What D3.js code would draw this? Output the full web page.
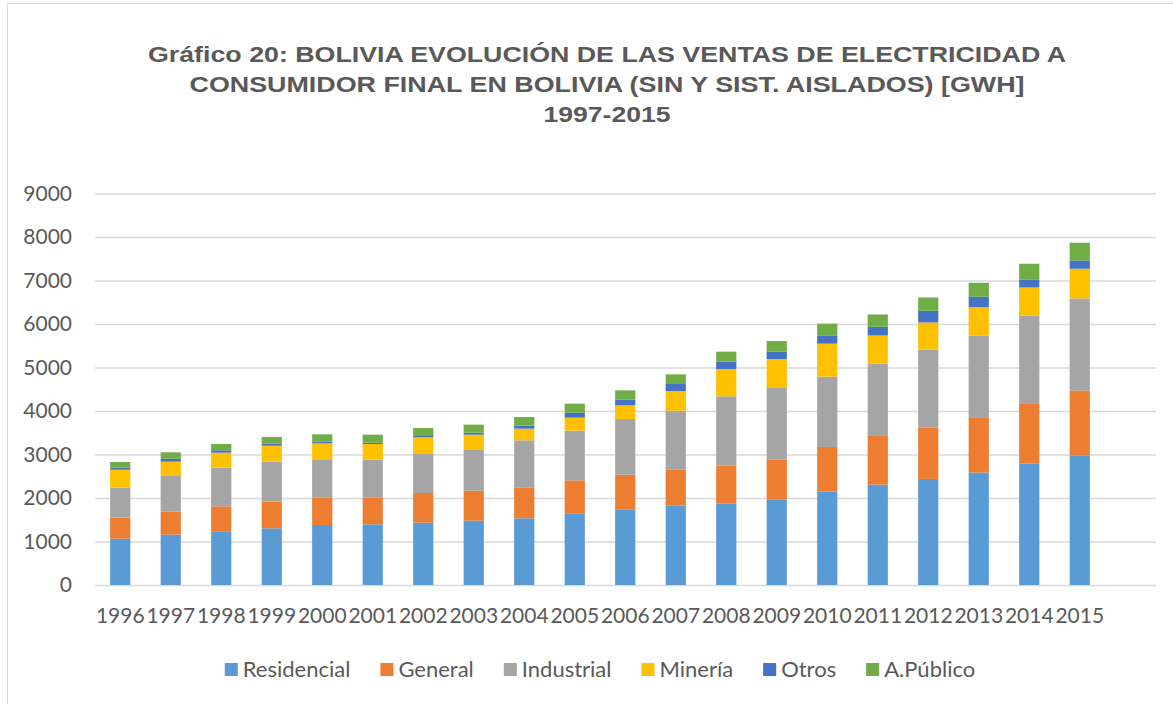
<html>
  <head>
    <meta charset="utf-8">
    <script src="https://d3js.org/d3.v7.min.js"></script>
    <style>
      body { margin: 0; background: #fff; }
      text { fill: #595959; }
    </style>
  </head>
  <body>
    <div id="dataviz"></div>
    <script>
      // years on the x axis
      var years = ["1996","1997","1998","1999","2000","2001","2002","2003","2004","2005",
                   "2006","2007","2008","2009","2010","2011","2012","2013","2014","2015"];

      // GWh per consumer group
      var residencial = [1065,1157,1234,1303,1379,1395,1433,1479,1533,1648,1739,1824,1870,1962,2146,2308,2439,2584,2791,2975];
      var general     = [483,529,574,613,629,620,682,690,712,758,797,835,873,919,1026,1135,1181,1273,1388,1496];
      var industrial  = [690,820,889,919,866,866,896,950,1081,1142,1280,1349,1594,1663,1617,1649,1794,1879,2017,2116];
      var mineria     = [413,329,345,368,383,360,384,337,268,299,314,452,629,651,759,644,621,652,644,683];
      var otros       = [46,69,54,46,38,31,30,46,69,115,131,161,168,169,191,200,269,238,177,192];
      var aPublico    = [131,146,145,153,169,184,184,184,199,207,214,222,230,245,269,283,306,322,368,406];

      var seriesNames = ["Residencial","General","Industrial","Minería","Otros","A.Público"];
      var seriesColors = ["#5B9BD5","#ED7D31","#A5A5A5","#FFC000","#4472C4","#70AD47"];
      var yTicks = [0,1000,2000,3000,4000,5000,6000,7000,8000,9000];

      var titleLines = [
        "Gráfico 20: BOLIVIA EVOLUCIÓN DE LAS VENTAS DE ELECTRICIDAD A",
        "CONSUMIDOR FINAL EN BOLIVIA (SIN Y SIST. AISLADOS) [GWH]",
        "1997-2015"
      ];

      var table = years.map(function(y, i) {
        return {
          year: y,
          "Residencial": residencial[i],
          "General": general[i],
          "Industrial": industrial[i],
          "Minería": mineria[i],
          "Otros": otros[i],
          "A.Público": aPublico[i]
        };
      });

      var width = 1173, height = 704;
      var svg = d3.select("#dataviz").append("svg")
        .attr("width", width)
        .attr("height", height);

      // chart frame
      svg.append("rect")
        .attr("x", 7.5).attr("y", 3.5)
        .attr("width", 1300).attr("height", 900)
        .attr("fill", "none")
        .attr("stroke", "#d9d9d9")
        .attr("stroke-width", 1);

      // title
      var titleW = [918, 835, 127];
      svg.append("g").selectAll("text")
        .data(titleLines)
        .enter().append("text")
          .attr("x", 607)
          .attr("y", function(d, i) { return 62 + i * 30; })
          .attr("text-anchor", "middle")
          .attr("textLength", function(d, i) { return titleW[i]; })
          .attr("lengthAdjust", "spacingAndGlyphs")
          .style("font-family", "'Liberation Sans', Arial, sans-serif")
          .style("font-weight", "bold")
          .style("font-size", "22px")
          .text(function(d) { return d; });

      var left = 95, right = 1156, plotTop = 193.5, plotBottom = 585;

      var x = d3.scaleBand()
        .domain(years)
        .range([left, left + 50.5 * years.length])
        .paddingInner(0.6)
        .paddingOuter(0.3);

      var y = d3.scaleLinear()
        .domain([0, 9000])
        .range([plotBottom, plotTop]);

      // gridlines + y labels
      var yAxis = svg.append("g")
        .attr("transform", "translate(" + left + ",0)")
        .call(d3.axisLeft(y).tickValues(yTicks).tickFormat(d3.format("d"))
          .tickSize(-(right - left)).tickPadding(23));
      yAxis.select(".domain").remove();
      yAxis.selectAll(".tick line").attr("stroke", "#d9d9d9").attr("stroke-width", 1.5);
      yAxis.selectAll(".tick text")
        .style("font-family", "Lato, 'Open Sans', sans-serif")
        .style("font-size", "21px")
        .attr("fill", "#595959");

      // stacked bars
      var stack = d3.stack().keys(seriesNames);
      var layers = stack(table);

      svg.append("g").selectAll("g")
        .data(layers)
        .enter().append("g")
          .attr("fill", function(d, i) { return seriesColors[i]; })
        .selectAll("rect")
        .data(function(d) { return d; })
        .enter().append("rect")
          .attr("x", function(d) { return x(d.data.year); })
          .attr("y", function(d) { return y(d[1]); })
          .attr("height", function(d) { return y(d[0]) - y(d[1]); })
          .attr("width", x.bandwidth());

      // x labels
      var xAxis = svg.append("g")
        .attr("transform", "translate(0," + plotBottom + ")")
        .call(d3.axisBottom(x).tickSize(0).tickPadding(23));
      xAxis.select(".domain").remove();
      xAxis.selectAll(".tick text")
        .style("font-family", "Lato, 'Open Sans', sans-serif")
        .style("font-size", "21px")
        .attr("fill", "#595959");

      // legend
      var legend = svg.append("g");
      var items = legend.selectAll("g")
        .data(seriesNames)
        .enter().append("g");
      items.append("rect")
        .attr("width", 13).attr("height", 13)
        .attr("y", -14)
        .attr("fill", function(d, i) { return seriesColors[i]; });
      items.append("text")
        .attr("x", 18)
        .attr("y", 0)
        .style("font-family", "Lato, 'Open Sans', sans-serif")
        .style("font-size", "22px")
        .text(function(d) { return d; });

      var pos = 0, offsets = [];
      items.each(function() {
        offsets.push(pos);
        pos += 18 + this.querySelector("text").getComputedTextLength() + 30;
      });
      var total = pos - 30;
      var startX = 600 - total / 2;
      items.attr("transform", function(d, i) {
        return "translate(" + (startX + offsets[i]) + ",677)";
      });
    </script>
  </body>
</html>
